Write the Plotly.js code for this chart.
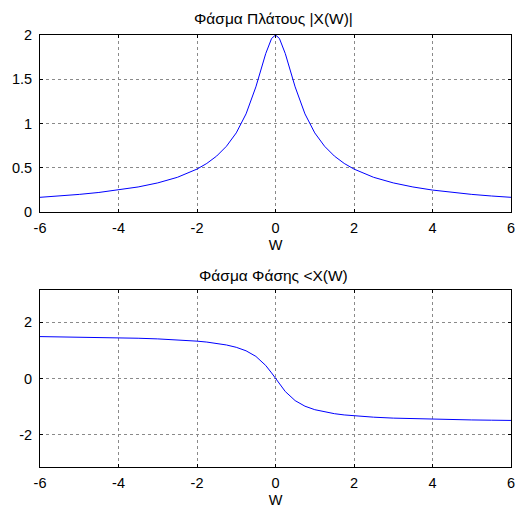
<!DOCTYPE html>
<html><head><meta charset="utf-8">
<script src="https://cdn.plot.ly/plotly-3.0.1.min.js"></script>
<style>body{margin:0;padding:0;background:#fff}#c{width:519px;height:511px}</style>
</head><body><div id="c"></div>
<script>
const W = [-6,-5.5,-5,-4.5,-4,-3.5,-3,-2.5,-2,-1.75,-1.5,-1.25,-1,-0.75,-0.5,-0.25,-0.1,0,0.1,0.25,0.5,0.75,1,1.25,1.5,1.75,2,2.5,3,3.5,4,4.5,5,5.5,6];
const magnitude = [0.166,0.181,0.199,0.221,0.248,0.283,0.329,0.392,0.485,0.549,0.632,0.743,0.894,1.109,1.414,1.789,1.961,2,1.961,1.789,1.414,1.109,0.894,0.743,0.632,0.549,0.485,0.392,0.329,0.283,0.248,0.221,0.199,0.181,0.166];
const phase = [1.488,1.480,1.471,1.460,1.446,1.429,1.406,1.373,1.326,1.293,1.249,1.190,1.107,0.983,0.785,0.464,0.197,0,-0.197,-0.464,-0.785,-0.983,-1.107,-1.190,-1.249,-1.293,-1.326,-1.373,-1.406,-1.429,-1.446,-1.460,-1.471,-1.480,-1.488];
const xTicks = [-6,-4,-2,0,2,4,6];
const xTickText = ['-6','-4','-2','0','2','4','6'];
const magTicks = [0,0.5,1,1.5,2];
const magTickText = ['0 ','0.5 ','1 ','1.5 ','2 '];
const phaseTicks = [-2,0,2];
const phaseTickText = ['-2 ','0 ','2 '];
const title1 = 'Φάσμα Πλάτους |X(W)|';
const title2 = 'Φάσμα Φάσης <X(W)';
const xLabel = 'W';

const font = {family:'Liberation Sans, Arial, sans-serif', size:14.5, color:'#000'};
function ax(extra){
  return Object.assign({
    showline:true, linecolor:'#000', linewidth:1, mirror:'ticks',
    ticks:'inside', ticklen:3, tickcolor:'#000', tickwidth:1,
    showgrid:true, gridcolor:'#8a8a8a', griddash:'dot', gridwidth:1,
    zeroline:false, tickfont:font, fixedrange:true, tickmode:'array'
  }, extra);
}
const data = [
  {x:W, y:magnitude, type:'scatter', mode:'lines', line:{color:'#0000ff', width:1}, xaxis:'x', yaxis:'y'},
  {x:W, y:phase, type:'scatter', mode:'lines', line:{color:'#0000ff', width:1}, xaxis:'x2', yaxis:'y2'}
];
const layout = {
  width:519, height:511, showlegend:false,
  margin:{l:0,r:0,t:0,b:0},
  paper_bgcolor:'#fff', plot_bgcolor:'#fff',
  xaxis: ax({domain:[0.0771,0.9846], range:[-6,6], tickvals:xTicks, ticktext:xTickText, anchor:'y', ticklabelstandoff:3,
    title:{text:xLabel, font:font, standoff:4}}),
  yaxis: ax({domain:[0.5851,0.9315], range:[0,2], tickvals:magTicks, ticktext:magTickText, anchor:'x'}),
  xaxis2: ax({domain:[0.0771,0.9846], range:[-6,6], tickvals:xTicks, ticktext:xTickText, anchor:'y2', ticklabelstandoff:3,
    title:{text:xLabel, font:font, standoff:4}}),
  yaxis2: ax({domain:[0.0861,0.4325], range:[-Math.PI,Math.PI], tickvals:phaseTicks, ticktext:phaseTickText, anchor:'x2'}),
  annotations:[
    {text:title1, xref:'paper', yref:'paper', x:0.527, y:0.9315, yshift:6, xanchor:'center', yanchor:'bottom', showarrow:false, font:{family:font.family, size:15.5, color:'#000'}},
    {text:title2, xref:'paper', yref:'paper', x:0.527, y:0.4325, yshift:4, xanchor:'center', yanchor:'bottom', showarrow:false, font:{family:font.family, size:15.5, color:'#000'}}
  ]
};
Plotly.newPlot('c', data, layout, {staticPlot:true, displayModeBar:false});
</script></body></html>
